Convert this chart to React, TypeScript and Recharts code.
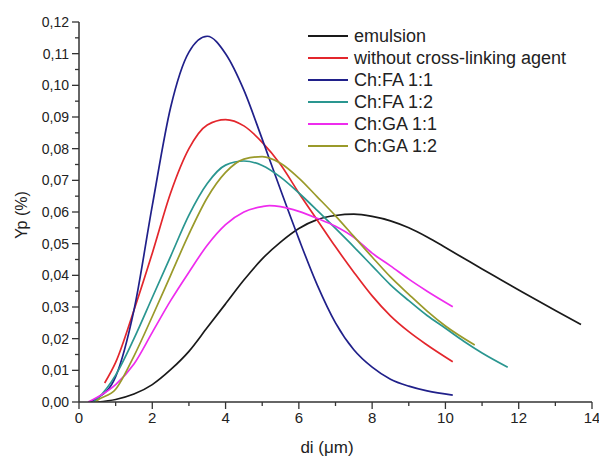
import { LineChart, Line, XAxis, YAxis } from 'recharts'

// values (di in µm, Yp in %)
const emulsionX = [0.5, 1, 1.5, 2, 2.5, 3, 3.5, 4, 4.5, 5, 5.5, 6, 6.5, 7, 7.5, 8, 8.5, 9, 9.5, 10, 10.5, 11, 11.5, 12, 12.5, 13, 13.7]
const emulsionY = [0, 0.0008, 0.0025, 0.0055, 0.0102, 0.016, 0.0235, 0.031, 0.0385, 0.0452, 0.0505, 0.0548, 0.0576, 0.0589, 0.0593, 0.0586, 0.0572, 0.055, 0.0521, 0.0488, 0.0454, 0.042, 0.0387, 0.0354, 0.0321, 0.0289, 0.0245]

const noAgentX = [0.7, 1, 1.5, 2, 2.5, 3, 3.5, 4, 4.5, 5, 5.5, 6, 6.5, 7, 7.5, 8, 8.5, 9, 9.5, 10.2]
const noAgentY = [0.006, 0.0125, 0.029, 0.047, 0.066, 0.08, 0.0875, 0.0892, 0.0872, 0.082, 0.075, 0.066, 0.0575, 0.049, 0.041, 0.0335, 0.0272, 0.0222, 0.018, 0.0127]

const fa11X = [0.3, 0.5, 1, 1.5, 2, 2.5, 3, 3.5, 4, 4.5, 5, 5.5, 6, 6.5, 7, 7.5, 8, 8.5, 9, 9.5, 10.2]
const fa11Y = [0, 0.0012, 0.008, 0.029, 0.062, 0.093, 0.1105, 0.1155, 0.11, 0.0985, 0.083, 0.067, 0.0515, 0.037, 0.025, 0.0165, 0.011, 0.0072, 0.005, 0.0035, 0.0022]

const fa12X = [0.4, 0.5, 1, 1.5, 2, 2.5, 3, 3.5, 4, 4.5, 5, 5.5, 6, 6.5, 7, 7.5, 8, 8.5, 9, 9.5, 10, 10.5, 11, 11.7]
const fa12Y = [0, 0.001, 0.0085, 0.02, 0.033, 0.046, 0.059, 0.069, 0.0748, 0.0761, 0.0747, 0.071, 0.066, 0.0605, 0.0548, 0.049, 0.043, 0.037, 0.032, 0.0273, 0.0233, 0.0192, 0.0155, 0.011]

const ga11X = [0.25, 0.5, 1, 1.5, 2, 2.5, 3, 3.5, 4, 4.5, 5, 5.2, 5.5, 6, 6.5, 7, 7.5, 8, 8.5, 9, 9.5, 10.2]
const ga11Y = [0, 0.0015, 0.0055, 0.012, 0.022, 0.032, 0.041, 0.0495, 0.056, 0.06, 0.0617, 0.062, 0.0617, 0.0602, 0.058, 0.0555, 0.052, 0.047, 0.043, 0.0388, 0.035, 0.0301]

const ga12X = [0.45, 0.5, 1, 1.5, 2, 2.5, 3, 3.5, 4, 4.5, 5, 5.5, 6, 6.5, 7, 7.5, 8, 8.5, 9, 9.5, 10, 10.8]
const ga12Y = [0, 0.0005, 0.004, 0.0145, 0.027, 0.04, 0.053, 0.0645, 0.0725, 0.0767, 0.0775, 0.0754, 0.0707, 0.0648, 0.0588, 0.0523, 0.0458, 0.0395, 0.034, 0.0287, 0.024, 0.018]

const xMajor = [0, 2, 4, 6, 8, 10, 12, 14]
const xMinor = [1, 3, 5, 7, 9, 11, 13]
const yMajor = [0, 0.01, 0.02, 0.03, 0.04, 0.05, 0.06, 0.07, 0.08, 0.09, 0.1, 0.11, 0.12]

const toPoints = (xs: number[], ys: number[]) => xs.map((x, i) => ({ x, y: ys[i] }))

const series = [
    { name: 'emulsion', color: '#1a1a1a', data: toPoints(emulsionX, emulsionY) },
    { name: 'without cross-linking agent', color: '#e3262c', data: toPoints(noAgentX, noAgentY) },
    { name: 'Ch:FA 1:1', color: '#20208a', data: toPoints(fa11X, fa11Y) },
    { name: 'Ch:FA 1:2', color: '#2a9690', data: toPoints(fa12X, fa12Y) },
    { name: 'Ch:GA 1:1', color: '#ee2cee', data: toPoints(ga11X, ga11Y) },
    { name: 'Ch:GA 1:2', color: '#9a9a2a', data: toPoints(ga12X, ga12Y) },
]

const xTicks = [...xMajor, ...xMinor].sort((a, b) => a - b)
const yMinor = yMajor.slice(1).map((v) => +(v - 0.005).toFixed(3))
const yTicks = [...yMajor, ...yMinor].sort((a, b) => a - b)

const FONT = '"Liberation Sans", Arial, sans-serif'
const AXIS = '#333'

function XTick({ x, y, payload }: any) {
    const major = xMajor.includes(payload.value)
    return (
        <g>
            <line x1={x} x2={x} y1={y} y2={y + (major ? 7 : 4)} stroke={AXIS} strokeWidth={1.3} />
            {major && (
                <text x={x} y={y + 21} textAnchor="middle" fontSize={15} fill="#222" fontFamily={FONT}>
                    {payload.value}
                </text>
            )}
        </g>
    )
}

function YTick({ x, y, payload }: any) {
    const major = yMajor.some((v) => Math.abs(v - payload.value) < 1e-6)
    return (
        <g>
            <line x1={x - (major ? 7 : 4)} x2={x} y1={y} y2={y} stroke={AXIS} strokeWidth={1.3} />
            {major && (
                <text x={x - 10} y={y + 5} textAnchor="end" fontSize={14} fill="#222" fontFamily={FONT}>
                    {payload.value.toFixed(2).replace('.', ',')}
                </text>
            )}
        </g>
    )
}

function LegendBox() {
    return (
        <div style={{ position: 'absolute', left: 308, top: 25, fontFamily: FONT, fontSize: 18, color: '#222' }}>
            {series.map((s) => (
                <div key={s.name} style={{ display: 'flex', alignItems: 'center', height: 22, whiteSpace: 'nowrap' }}>
                    <span style={{ display: 'inline-block', width: 40, height: 2, background: s.color, marginRight: 6 }} />
                    <span>{s.name}</span>
                </div>
            ))}
        </div>
    )
}

export default function App() {
    return (
        <div style={{ position: 'absolute', left: 0, top: 0, width: 599, height: 459, background: '#fff' }}>
            <LineChart width={599} height={459} margin={{ top: 22, right: 7, bottom: 0, left: 0 }}>
                <XAxis
                    dataKey="x"
                    type="number"
                    domain={[0, 14]}
                    ticks={xTicks}
                    interval={0}
                    height={57}
                    tickSize={0}
                    tickMargin={0}
                    tickLine={false}
                    tick={<XTick />}
                    axisLine={{ stroke: AXIS, strokeWidth: 1.5 }}
                    allowDataOverflow
                    label={{
                        content: () => (
                            <text x={327} y={453} textAnchor="middle" fontSize={17} fill="#222" fontFamily={FONT}>
                                di (μm)
                            </text>
                        ),
                    }}
                />
                <YAxis
                    dataKey="y"
                    type="number"
                    domain={[0, 0.12]}
                    ticks={yTicks}
                    interval={0}
                    width={79}
                    tickSize={0}
                    tickMargin={0}
                    tickLine={false}
                    tick={<YTick />}
                    axisLine={{ stroke: AXIS, strokeWidth: 1.5 }}
                    allowDataOverflow
                    label={{
                        content: () => (
                            <text
                                x={22}
                                y={215}
                                transform="rotate(-90 22 215)"
                                textAnchor="middle"
                                dy={5}
                                fontSize={16}
                                fill="#222"
                                fontFamily={FONT}
                            >
                                Yp (%)
                            </text>
                        ),
                    }}
                />
                {series.map((s) => (
                    <Line
                        key={s.name}
                        data={s.data}
                        dataKey="y"
                        name={s.name}
                        type="monotone"
                        stroke={s.color}
                        strokeWidth={1.7}
                        dot={false}
                        isAnimationActive={false}
                    />
                ))}
            </LineChart>
            <LegendBox />
        </div>
    )
}
